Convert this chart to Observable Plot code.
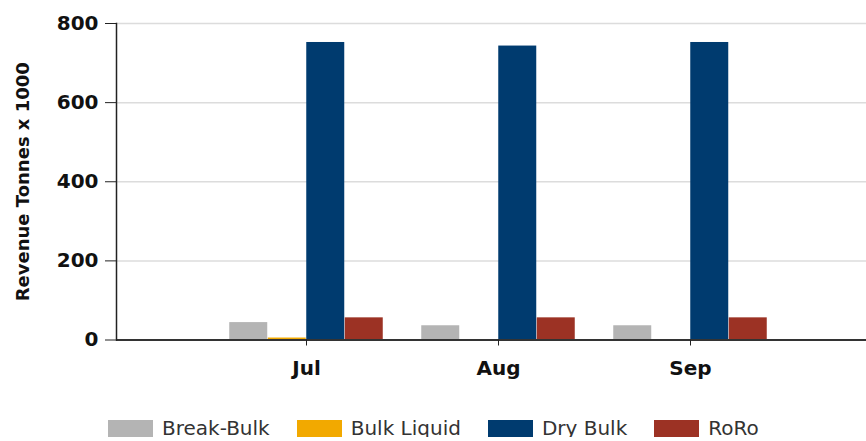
<!DOCTYPE html>
<html>
<head>
<meta charset="utf-8">
<script src="https://cdn.jsdelivr.net/npm/d3@7"></script>
<script src="https://cdn.jsdelivr.net/npm/@observablehq/plot@0.6"></script>
<style>
  html, body { margin: 0; padding: 0; background: #fff; overflow: hidden; }
  #chart { width: 866px; }
  .legend { display: flex; align-items: center; padding-left: 108px; padding-top: 20px;
            font-family: "DejaVu Sans", sans-serif; font-size: 20px; line-height: 17px; color: #333; }
  .legend .item { display: flex; align-items: center; margin-right: 27px; }
  .legend .sw { width: 45px; height: 17px; margin-right: 9px; }
</style>
</head>
<body>
<div id="chart"></div>
<script>
const months = ["Jul", "Aug", "Sep"];
const series = ["Break-Bulk", "Bulk Liquid", "Dry Bulk", "RoRo"];
const breakBulk = [44, 36, 36];
const bulkLiquid = [5, 0, 0];
const dryBulk = [752, 743, 752];
const roro = [56, 56, 56];
const colors = ["#b4b4b4", "#f2a900", "#003b6f", "#9c3224"];
const yTicks = [0, 200, 400, 600, 800];
const yLabel = "Revenue Tonnes x 1000";

const seriesValues = [breakBulk, bulkLiquid, dryBulk, roro];
const table = series.map((s, i) => months.map((m, j) => ({month: m, series: s, value: seriesValues[i][j]})));

const width = 866, height = 400;
const marginLeft = 116, marginRight = 0, marginTop = 23, marginBottom = 60.5;
const paddingOuter = 0.448, align = 0.538;
const bw = (width - marginLeft - marginRight) / (months.length + 2 * paddingOuter);

const bars = table.map((rows, i) => Plot.barY(rows, {
  x: "month", y: "value", fill: colors[i],
  insetLeft: bw * (0.1 + 0.2 * i),
  insetRight: bw * (0.7 - 0.2 * i)
}));

const chart = Plot.plot({
  width, height, marginLeft, marginRight, marginTop, marginBottom,
  style: {fontFamily: "DejaVu Sans, sans-serif", background: "#fff"},
  x: {domain: months, paddingInner: 0, paddingOuter, align},
  y: {domain: [0, 800]},
  marks: [
    Plot.gridY(yTicks.slice(1), {stroke: "#dcdcdc", strokeOpacity: 1, strokeWidth: 1.5}),
    ...bars,
    Plot.ruleY([0], {stroke: "#333", strokeWidth: 2}),
    Plot.frame({anchor: "left", stroke: "#222", strokeWidth: 1.5}),
    Plot.axisY(yTicks, {tickSize: 11, tickPadding: 7, fontSize: 20, fontWeight: "bold", fill: "#111", stroke: "#222", label: null}),
    Plot.axisX({tickSize: 6, tickPadding: 15, fontSize: 20, fontWeight: "bold", fill: "#111", stroke: "#222", label: null}),
    Plot.text([yLabel], {frameAnchor: "left", textAnchor: "middle", lineAnchor: "middle", rotate: -90, dx: -93, fontSize: 18, fontWeight: "bold", fill: "#111"})
  ]
});
document.getElementById("chart").appendChild(chart);

const legend = d3.select("#chart").append("div").attr("class", "legend");
series.forEach((s, i) => {
  const item = legend.append("div").attr("class", "item");
  item.append("div").attr("class", "sw").style("background", colors[i]);
  item.append("span").text(s);
});
</script>
</body>
</html>
